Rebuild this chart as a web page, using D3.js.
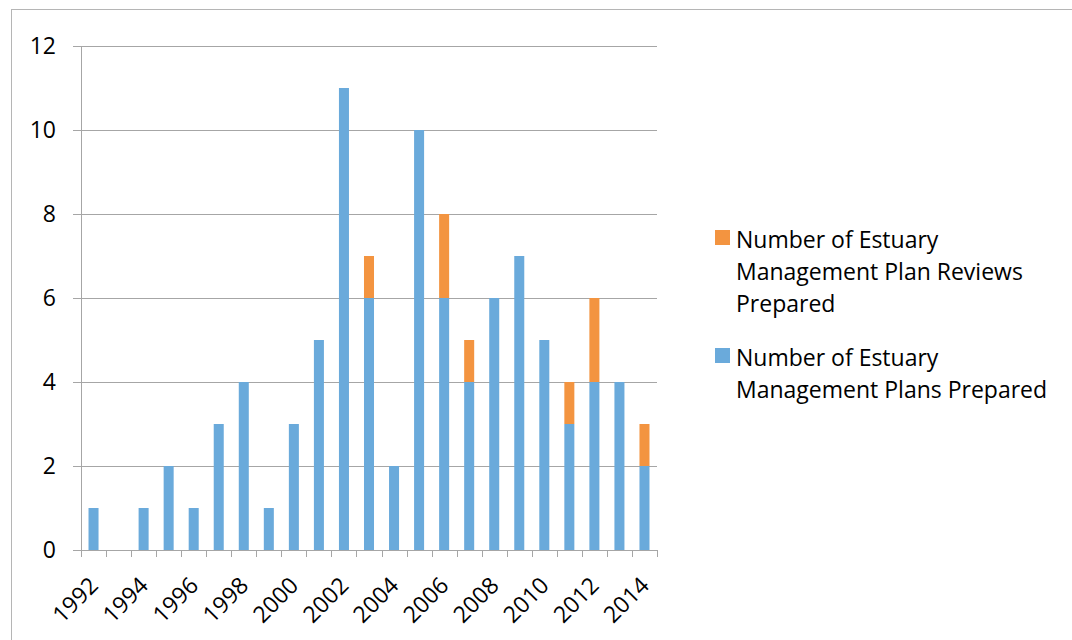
<!DOCTYPE html>
<html>
<head>
<meta charset="utf-8">
<script src="https://cdn.jsdelivr.net/npm/d3@7"></script>
<style>
  html, body { margin: 0; padding: 0; background: #fff; }
  svg { display: block; font-family: "Open Sans", "Liberation Sans", sans-serif; }
</style>
</head>
<body>
<svg id="chart" width="1072" height="640"></svg>
<script>
// Estuary management plans per year, stacked: new plans (blue) below reviews (orange)
const years = ["1992","1993","1994","1995","1996","1997","1998","1999","2000","2001","2002","2003",
               "2004","2005","2006","2007","2008","2009","2010","2011","2012","2013","2014"];
const plansPrepared   = [1,0,1,2,1,3,4,1,3,5,11,6,2,10,6,4,6,7,5,3,4,4,2];
const reviewsPrepared = [0,0,0,0,0,0,0,0,0,0,0,1,0,0,2,1,0,0,0,1,2,0,1];
const yTicks = [0,2,4,6,8,10,12];
const seriesNames = ["Number of Estuary Management Plans Prepared",
                     "Number of Estuary Management Plan Reviews Prepared"];
const seriesColors = ["#6aaadb", "#f39440"];

const svg = d3.select("#chart");

// outer chart frame
svg.append("rect")
  .attr("x", 11.5).attr("y", 9.5)
  .attr("width", 1100).attr("height", 700)
  .attr("fill", "none").attr("stroke", "#b5b5b5").attr("stroke-width", 1);

const plot = { left: 81, right: 657, top: 46, bottom: 550 };

const x = d3.scaleBand().domain(years).range([plot.left, plot.right]).paddingInner(0.6).paddingOuter(0.3);
const xb = d3.scaleBand().domain(years).range([plot.left, plot.right]);
const y = d3.scaleLinear().domain([0, 12]).range([plot.bottom, plot.top]);

// horizontal gridlines with short ticks to the left of the axis
const g = svg.append("g");
g.selectAll("line.grid").data(yTicks).enter().append("line")
  .attr("x1", plot.left - 8).attr("x2", plot.right)
  .attr("y1", d => Math.round(y(d)) + 0.5).attr("y2", d => Math.round(y(d)) + 0.5)
  .attr("stroke", "#a6a6a6").attr("stroke-width", 1);

// y axis labels
g.selectAll("text.ylab").data(yTicks).enter().append("text")
  .attr("x", 56).attr("y", d => y(d))
  .attr("dy", "0.36em")
  .attr("text-anchor", "end")
  .attr("font-size", 23).attr("fill", "#000")
  .text(d => d);

// stacked bars
const rows = years.map((yr, i) => ({ year: yr, plans: plansPrepared[i], reviews: reviewsPrepared[i] }));
const stack = d3.stack().keys(["plans", "reviews"])(rows);

svg.append("g").selectAll("g").data(stack).enter().append("g")
  .attr("fill", (d, i) => seriesColors[i])
  .selectAll("rect").data(d => d).enter().append("rect")
  .attr("x", d => x(d.data.year))
  .attr("width", x.bandwidth())
  .attr("y", d => y(d[1]))
  .attr("height", d => y(d[0]) - y(d[1]));

// y axis line
svg.append("line")
  .attr("x1", plot.left + 0.5).attr("x2", plot.left + 0.5)
  .attr("y1", plot.top).attr("y2", plot.bottom)
  .attr("stroke", "#a6a6a6");

// x axis line and category boundary ticks
svg.append("line")
  .attr("x1", plot.left).attr("x2", plot.right)
  .attr("y1", plot.bottom + 0.5).attr("y2", plot.bottom + 0.5)
  .attr("stroke", "#a6a6a6");
const boundaries = years.map(d => xb(d)).concat([plot.right]);
svg.append("g").selectAll("line").data(boundaries).enter().append("line")
  .attr("x1", d => Math.round(d) + 0.5).attr("x2", d => Math.round(d) + 0.5)
  .attr("y1", plot.bottom).attr("y2", plot.bottom + 7)
  .attr("stroke", "#a6a6a6");

// rotated year labels, every second year
svg.append("g").selectAll("text").data(years.filter((d, i) => i % 2 === 0)).enter().append("text")
  .attr("transform", d => `translate(${x(d) + x.bandwidth() / 2 + 6},${plot.bottom + 37}) rotate(-45)`)
  .attr("text-anchor", "end")
  .attr("font-size", 23).attr("fill", "#000")
  .text(d => d);

// legend
const legend = [
  { color: seriesColors[1], lines: ["Number of Estuary", "Management Plan Reviews", "Prepared"], top: 230 },
  { color: seriesColors[0], lines: ["Number of Estuary", "Management Plans Prepared"], top: 348 }
];
const lg = svg.append("g").selectAll("g").data(legend).enter().append("g");
lg.append("rect")
  .attr("x", 715).attr("y", d => d.top)
  .attr("width", 15).attr("height", 15)
  .attr("fill", d => d.color);
lg.each(function(d) {
  const t = d3.select(this).append("text")
    .attr("font-size", 23).attr("fill", "#000");
  d.lines.forEach((ln, i) => {
    t.append("tspan").attr("x", 736).attr("y", d.top + 18 + i * 32).text(ln);
  });
});
</script>
</body>
</html>
